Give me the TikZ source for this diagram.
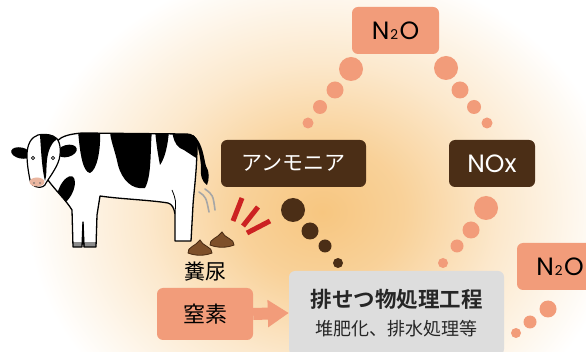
\documentclass[tikz,border=0pt]{standalone}
\usepackage{fontspec}
\setmainfont{Noto Sans CJK JP}[BoldFont={Noto Sans CJK JP Bold}]
\newfontfamily\latinfont{Poppins}
\usetikzlibrary{arrows.meta, positioning, calc}

\definecolor{salmon}{RGB}{242,156,122}
\definecolor{darkbrown}{RGB}{75,46,22}
\definecolor{procgray}{RGB}{221,221,221}
\definecolor{redmark}{RGB}{204,34,34}
\definecolor{dung}{RGB}{126,80,42}
\definecolor{dungdark}{RGB}{72,42,18}
\definecolor{glowc}{RGB}{247,198,128}
\definecolor{hoofgray}{RGB}{140,140,140}
\definecolor{nosepink}{RGB}{234,182,160}

\pgfdeclareradialshading{glow}{\pgfpoint{0bp}{0bp}}{%
  color(0bp)=(glowc); color(7bp)=(glowc!80!white);
  color(15bp)=(glowc!40!white); color(25bp)=(white); color(50bp)=(white)}

\newcommand{\nitrous}{N\kern1pt{\fontsize{13.5}{13.5}\selectfont 2}\kern1.5pt O}

% cow outline, body and legs
\def\cowbody{(57,141) .. controls (62,136) and (70,134) .. (82,133)
  -- (185,134) .. controls (193,134) and (197,137) .. (197,145)
  .. controls (197,170) and (194,190) .. (193,205) -- (191,241)
  -- (175,241) -- (175,214) .. controls (174,208) and (172,204) .. (168,203)
  .. controls (150,200) and (120,199) .. (100,196) -- (97,215)
  -- (96,247) -- (84,247) -- (83,222) -- (82,247) -- (73,247)
  -- (72,210) .. controls (66,200) and (55,190) .. (48,180) -- cycle}

\begin{document}
\begin{tikzpicture}[x=1pt, y=-1pt,
    gasbox/.style={rounded corners=6pt, minimum height=47pt, inner sep=0pt,
                   font=\fontsize{21}{21}\selectfont},
    latin/.style={font=\latinfont\fontsize{25}{25}\selectfont},
    dungpile/.style={fill=dung, draw=dungdark, line width=0.8pt},
    swish/.style={gray!70, line width=1.6pt, line cap=round}]
  \useasboundingbox (0,0) rectangle (586,352);
  \clip (0,0) rectangle (586,352);

  % warm glow behind the cycle
  \shade[shading=glow] (322,212) ellipse [x radius=295pt, y radius=250pt];

  % gas boxes
  \node[gasbox, latin, fill=salmon, minimum width=87pt] (n2otop) at (395.5,30.5) {\nitrous};
  \node[gasbox, fill=darkbrown, text=white, minimum width=145pt] (ammonia) at (293.5,163.5) {アンモニア};
  \node[gasbox, latin, fill=darkbrown, text=white, minimum width=86pt] (nox) at (492,163.5) {NOx};
  \node[gasbox, latin, fill=salmon, minimum width=86pt] (n2oside) at (560,266.5) {\nitrous};

  % treatment process
  \node[rounded corners=6pt, fill=procgray, minimum width=215pt, minimum height=84pt,
        align=center, font=\fontsize{18}{28}\selectfont, text=black!85] (process) at (396.5,313)
    {{\fontsize{21.5}{28}\selectfont\bfseries 排せつ物処理工程}\\堆肥化、排水処理等};

  % nitrogen input
  \node[rounded corners=6pt, fill=salmon, minimum width=96pt, minimum height=52pt,
        font=\fontsize{22}{22}\selectfont] (nitrogen) at (205,314) {窒素};
  \draw[salmon, line width=12pt, -{Triangle[length=21pt, width=26pt]}]
    (nitrogen.east) -- (process.west);

  \node[font=\fontsize{21}{21}\selectfont] (dunglabel) at (205,272) {糞尿};

  % dotted paths between the gases
  \foreach \x/\y/\r in {351/69/12, 335/90/8.5, 320/107/7, 308/123/5.5,
                        446/68/12, 460/90/8.5, 474/107/7, 487/123/5.5,
                        486/208/12, 471/230/8.5, 457/246/6.5, 443/263/5,
                        548/309/8.5, 530/322/6.5, 516/333/5} {
    \fill[salmon] (\x,\y) circle [radius=\r pt];
  }
  \foreach \x/\y/\r in {293/210/12, 310/231/8.5, 325/246/6.5, 338/263/5} {
    \fill[darkbrown] (\x,\y) circle [radius=\r pt];
  }

  % smell marks
  \foreach \a/\b/\c/\d in {242/198/233/221, 258/207/243/226, 270/221/247/233} {
    \draw[redmark, line width=5pt] (\a,\b) -- (\c,\d);
  }
  \draw[swish] (199,192) .. controls (206,197) .. (209,212);
  \draw[swish] (205,189) .. controls (213,195) .. (215,210);

  % dung
  \foreach \dx/\dy in {0/0, 22/-8} {
    \begin{scope}[shift={(\dx,\dy)}]
      \draw[dungpile] (188,253) .. controls (187,247) and (196,246) .. (200,240)
        .. controls (202,246) and (213,247) .. (212,253)
        .. controls (205,256) and (195,256) .. cycle;
    \end{scope}
  }

  % cow
  \fill[black] (193,135) .. controls (203,142) and (204,160) .. (206,166)
    .. controls (210,172) and (209,180) .. (207,185)
    .. controls (202,182) and (200,175) .. (201,166)
    .. controls (200,155) and (198,143) .. (192,138) -- cycle;
  \fill[white] \cowbody;
  \begin{scope}
    \clip \cowbody;
    \fill (78,130) -- (100,130) .. controls (101,150) and (97,170) .. (90,173)
      .. controls (83,172) and (80,155) .. (78,130) -- cycle;
    \fill (110,130) -- (152,130) .. controls (150,150) and (152,175) .. (145,188)
      .. controls (132,190) and (122,180) .. (118,165)
      .. controls (115,150) and (110,140) .. (110,130) -- cycle;
    \fill (155,130) -- (169,130) .. controls (168,145) and (165,158) .. (160,165)
      .. controls (157,150) and (156,140) .. (155,130) -- cycle;
    \fill (172,130) -- (200,130) -- (200,160) .. controls (192,156) and (185,150) .. (180,148)
      .. controls (175,145) and (173,138) .. (172,130) -- cycle;
    \fill[rotate around={-25:(66,190)}] (66,190) ellipse [x radius=7pt, y radius=15pt];
    \fill[hoofgray] (60,242) rectangle (200,250);
  \end{scope}
  \draw[line width=1.3pt, line join=round] \cowbody;
  \draw[line width=0.8pt] (83,222) -- (84,247);
  \draw[line width=0.8pt] (175,214) .. controls (176,200) .. (172,190);
  % head
  \fill[rotate around={-12:(21,153)}] (21,153) ellipse [x radius=10pt, y radius=5.5pt];
  \fill[rotate around={15:(67,151)}] (67,151) ellipse [x radius=10pt, y radius=6pt];
  \path[fill=white] (38,135) .. controls (31,137) and (27,145) .. (27,155)
    .. controls (27,165) and (29,175) .. (30,180)
    .. controls (31,188) and (44,190) .. (46,183)
    .. controls (51,175) and (59,165) .. (60,155)
    .. controls (61,146) and (59,138) .. (53,136)
    .. controls (48,134) and (42,134) .. (38,135) -- cycle;
  \fill (40,135) .. controls (46,134) and (53,135) .. (57,139)
    .. controls (52,142) and (48,150) .. (47,160)
    .. controls (46,168) and (47,175) .. (45,181)
    .. controls (42,170) and (41,150) .. (40,135) -- cycle;
  \draw[line width=1.2pt] (38,135) .. controls (31,137) and (27,145) .. (27,155)
    .. controls (27,165) and (29,175) .. (30,180)
    .. controls (31,188) and (44,190) .. (46,183)
    .. controls (51,175) and (59,165) .. (60,155)
    .. controls (61,146) and (59,138) .. (53,136)
    .. controls (48,134) and (42,134) .. (38,135) -- cycle;
  \fill[nosepink] (37,182) ellipse [x radius=7.5pt, y radius=4.5pt];
  \fill[black!60] (34,183) circle [radius=0.9pt] (40,183) circle [radius=0.9pt];
  \draw[fill=white, line width=0.6pt] (33,158) circle [radius=1.6pt] (53,158) circle [radius=1.6pt];
\end{tikzpicture}
\end{document}
